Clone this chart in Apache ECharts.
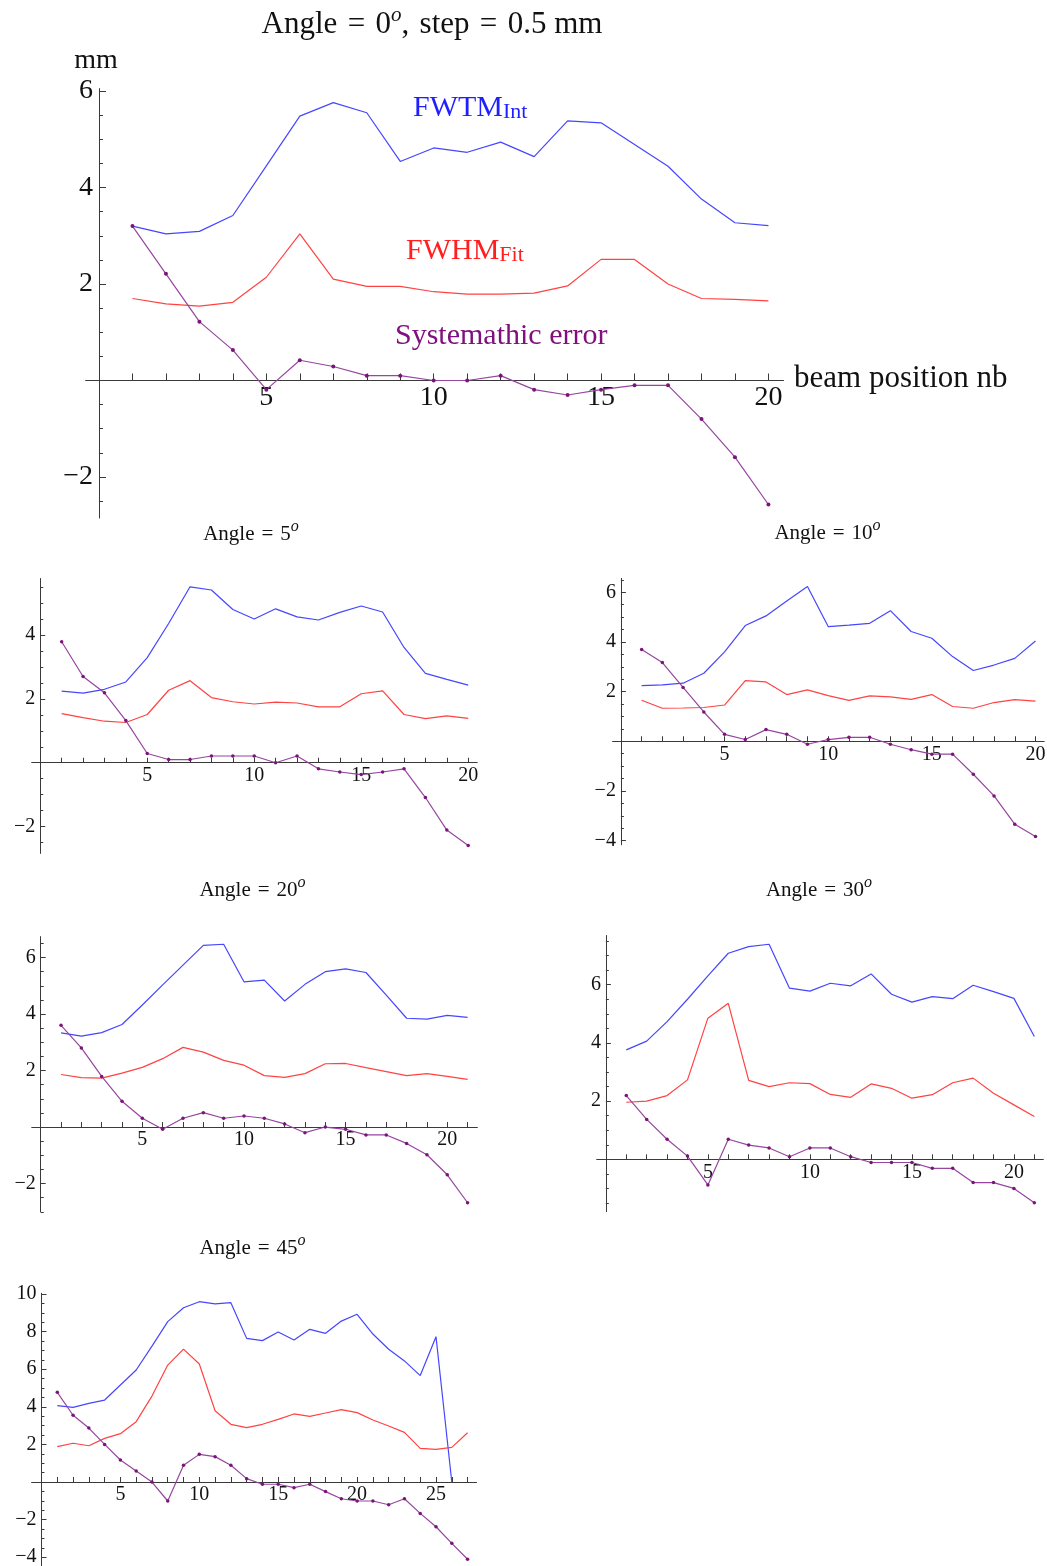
<!DOCTYPE html>
<html>
<head>
<meta charset="utf-8">
<script src="https://cdn.jsdelivr.net/npm/echarts@6/dist/echarts.min.js"></script>
<style>
  html, body { margin: 0; padding: 0; background: #ffffff; }
  #chart { width: 1047px; height: 1566px; }
</style>
</head>
<body>
<div id="chart"></div>
<script>
// Beam width (FWTM, FWHM) and systematic error, in mm, per beam position.

// Angle = 0°, step = 0.5 mm
const fwtm0 = [3.20, 3.04, 3.09, 3.42, 4.45, 5.48, 5.76, 5.55, 4.54, 4.82, 4.73, 4.94, 4.64, 5.38, 5.34, 4.89, 4.44, 3.76, 3.27, 3.21];
const fwhm0 = [1.70, 1.59, 1.54, 1.62, 2.14, 3.04, 2.10, 1.95, 1.95, 1.84, 1.79, 1.79, 1.81, 1.96, 2.51, 2.51, 2.00, 1.70, 1.68, 1.65];
const sys0  = [3.20, 2.21, 1.22, 0.63, -0.19, 0.42, 0.29, 0.10, 0.10, 0.00, 0.00, 0.10, -0.19, -0.30, -0.19, -0.10, -0.10, -0.80, -1.59, -2.57];

// Angle = 5°
const fwtm5 = [2.24, 2.18, 2.30, 2.53, 3.29, 4.36, 5.51, 5.41, 4.80, 4.50, 4.82, 4.57, 4.47, 4.71, 4.91, 4.72, 3.61, 2.80, 2.61, 2.43];
const fwhm5 = [1.54, 1.41, 1.30, 1.26, 1.51, 2.27, 2.57, 2.04, 1.91, 1.84, 1.90, 1.87, 1.75, 1.75, 2.16, 2.25, 1.51, 1.38, 1.47, 1.39];
const sys5  = [3.79, 2.70, 2.19, 1.32, 0.29, 0.10, 0.10, 0.21, 0.21, 0.21, 0.00, 0.21, -0.19, -0.29, -0.37, -0.29, -0.19, -1.09, -2.11, -2.59];

// Angle = 10°
const fwtm10 = [2.24, 2.27, 2.34, 2.74, 3.60, 4.66, 5.05, 5.65, 6.23, 4.62, 4.68, 4.75, 5.26, 4.42, 4.15, 3.41, 2.85, 3.07, 3.34, 4.04];
const fwhm10 = [1.65, 1.33, 1.34, 1.36, 1.46, 2.44, 2.39, 1.88, 2.07, 1.84, 1.65, 1.83, 1.79, 1.69, 1.88, 1.40, 1.33, 1.56, 1.68, 1.62];
const sys10  = [3.70, 3.17, 2.17, 1.18, 0.28, 0.07, 0.47, 0.28, -0.12, 0.07, 0.16, 0.16, -0.12, -0.34, -0.52, -0.52, -1.33, -2.20, -3.34, -3.84];

// Angle = 20°
const fwtm20 = [3.33, 3.22, 3.34, 3.63, 4.32, 5.03, 5.73, 6.43, 6.47, 5.14, 5.20, 4.46, 5.05, 5.50, 5.60, 5.47, 4.67, 3.85, 3.82, 3.95, 3.88];
const fwhm20 = [1.86, 1.75, 1.73, 1.91, 2.11, 2.42, 2.82, 2.65, 2.36, 2.19, 1.82, 1.76, 1.89, 2.24, 2.25, 2.10, 1.96, 1.82, 1.89, 1.79, 1.69];
const sys20  = [3.60, 2.80, 1.79, 0.91, 0.31, -0.08, 0.31, 0.51, 0.31, 0.39, 0.31, 0.11, -0.20, 0.00, -0.08, -0.28, -0.28, -0.58, -0.98, -1.69, -2.68];

// Angle = 30°
const fwtm30 = [3.76, 4.06, 4.73, 5.50, 6.30, 7.08, 7.31, 7.39, 5.88, 5.78, 6.05, 5.96, 6.37, 5.67, 5.40, 5.59, 5.52, 5.98, 5.76, 5.53, 4.22];
const fwhm30 = [1.96, 2.00, 2.19, 2.73, 4.85, 5.36, 2.71, 2.50, 2.63, 2.60, 2.23, 2.13, 2.59, 2.44, 2.10, 2.22, 2.63, 2.79, 2.27, 1.87, 1.47];
const sys30  = [2.19, 1.37, 0.69, 0.11, -0.88, 0.69, 0.49, 0.39, 0.09, 0.39, 0.39, 0.09, -0.11, -0.11, -0.11, -0.31, -0.31, -0.80, -0.80, -1.00, -1.49];

// Angle = 45°
const fwtm45 = [4.06, 3.97, 4.18, 4.36, 5.16, 5.96, 7.23, 8.53, 9.27, 9.59, 9.47, 9.54, 7.64, 7.52, 7.98, 7.55, 8.12, 7.91, 8.56, 8.92, 7.87, 7.06, 6.44, 5.66, 7.73, 0.00];
const fwhm45 = [1.88, 2.06, 1.93, 2.32, 2.57, 3.21, 4.57, 6.22, 7.07, 6.28, 3.79, 3.07, 2.89, 3.07, 3.33, 3.62, 3.49, 3.67, 3.85, 3.69, 3.30, 2.98, 2.64, 1.79, 1.74, 1.84, 2.62];
const sys45  = [4.77, 3.55, 2.87, 2.00, 1.17, 0.59, 0.00, -1.01, 0.89, 1.47, 1.35, 0.89, 0.18, -0.12, -0.12, -0.30, -0.12, -0.51, -0.89, -1.01, -1.01, -1.21, -0.89, -1.67, -2.38, -3.26, -4.11];

// Tick labels
const xLabels20 = [5, 10, 15, 20];
const xLabels25 = [5, 10, 15, 20, 25];
const yLabels0  = [-2, 2, 4, 6];
const yLabels5  = [-2, 2, 4];
const yLabels10 = [-4, -2, 2, 4, 6];
const yLabels20 = [-2, 2, 4, 6];
const yLabels30 = [2, 4, 6];
const yLabels45 = [-4, -2, 2, 4, 6, 8, 10];

const FONT = '"Liberation Serif", "Times New Roman", serif';
const BLUE = '#4646ff';
const RED = '#ff4343';
const PURPLE_LINE = '#9646a0';
const PURPLE_DOT = '#7a1478';
const AXIS = '#3a3a3a';

// Panel layout: axis ranges and plot boxes [left, top, width, height]
const panels = [
  { angle: '0', fwtm: fwtm0, fwhm: fwhm0, sys: sys0, nb: 20, xLab: xLabels20, yLab: yLabels0,
    xr: [-0.4, 20.45], yr: [-2.85, 6.05], box: [85.6, 88.6, 697.9, 429.4], big: true },
  { angle: '5', fwtm: fwtm5, fwhm: fwhm5, sys: sys5, nb: 20, xLab: xLabels20, yLab: yLabels5,
    xr: [-0.4, 20.42], yr: [-2.84, 5.77], box: [31.7, 578.5, 445.5, 274.9] },
  { angle: '10', fwtm: fwtm10, fwhm: fwhm10, sys: sys10, nb: 20, xLab: xLabels20, yLab: yLabels10,
    xr: [-0.4, 20.42], yr: [-4.17, 6.56], box: [612.6, 578.4, 431.6, 266.4] },
  { angle: '20', fwtm: fwtm20, fwhm: fwhm20, sys: sys20, nb: 21, xLab: xLabels20, yLab: yLabels20,
    xr: [-0.44, 21.48], yr: [-3.0, 6.74], box: [31.75, 936.6, 445.6, 275.2] },
  { angle: '30', fwtm: fwtm30, fwhm: fwhm30, sys: sys30, nb: 21, xLab: xLabels20, yLab: yLabels30,
    xr: [-0.45, 21.44], yr: [-1.8, 7.69], box: [596.7, 935.5, 446.6, 276.2] },
  { angle: '45', fwtm: fwtm45, fwhm: fwhm45, sys: sys45, nb: 27, xLab: xLabels25, yLab: yLabels45,
    xr: [-0.63, 27.57], yr: [-4.47, 10.04], box: [31.56, 1293.25, 445.0, 272.8] }
];

function intTicks(n) {
  const out = [];
  for (let i = 1; i <= n; i++) out.push(i);
  return out;
}
function halfTicks(lo, hi) {
  const out = [];
  for (let v = Math.ceil(lo * 2) / 2; v <= hi + 1e-9; v += 0.5) {
    if (Math.abs(v) > 1e-9 && Math.abs(v % 2) > 1e-9) out.push(v);
  }
  return out;
}
const fmtNum = v => (v < 0 ? '\u2212' + Math.abs(v) : String(v));
const pts = arr => arr.map((v, i) => [i + 1, v]);

const grids = [], xAxes = [], yAxes = [], series = [];

panels.forEach((p, k) => {
  const tickFont = p.big ? 28 : 20;
  // labels are laid out from the grid edge: shift them back onto the zero lines
  const zeroFromBottom = (0 - p.yr[0]) / (p.yr[1] - p.yr[0]) * p.box[3];
  const zeroFromLeft = (0 - p.xr[0]) / (p.xr[1] - p.xr[0]) * p.box[2];
  grids.push({ left: p.box[0], top: p.box[1], width: p.box[2], height: p.box[3],
               containLabel: false, outerBoundsMode: 'none' });
  xAxes.push({
    gridIndex: k, type: 'value', min: p.xr[0], max: p.xr[1],
    axisLine: { onZero: true, onZeroAxisIndex: 2 * k, lineStyle: { color: AXIS, width: 1 } },
    axisTick: { show: true, inside: true, length: p.big ? 7 : 5, customValues: intTicks(p.nb),
                lineStyle: { color: AXIS, width: 1 } },
    axisLabel: { customValues: p.xLab, color: '#111', fontFamily: FONT, fontSize: tickFont,
                 margin: 3 - zeroFromBottom, hideOverlap: false },
    splitLine: { show: false }
  });
  // major ticks with labels
  yAxes.push({
    gridIndex: k, type: 'value', min: p.yr[0], max: p.yr[1],
    axisLine: { onZero: true, onZeroAxisIndex: k, lineStyle: { color: AXIS, width: 1 } },
    axisTick: { show: true, inside: true, length: p.big ? 7 : 5, customValues: p.yLab,
                lineStyle: { color: AXIS, width: 1 } },
    axisLabel: { customValues: p.yLab, formatter: fmtNum, color: '#111', fontFamily: FONT,
                 fontSize: tickFont, margin: (p.big ? 6 : 5) - zeroFromLeft, hideOverlap: false },
    splitLine: { show: false }
  });
  // half-unit minor ticks
  yAxes.push({
    gridIndex: k, type: 'value', min: p.yr[0], max: p.yr[1], position: 'left',
    axisLine: { show: false, onZero: true, onZeroAxisIndex: k },
    axisTick: { show: true, inside: true, length: p.big ? 4 : 3, customValues: halfTicks(p.yr[0], p.yr[1]),
                lineStyle: { color: AXIS, width: 1 } },
    axisLabel: { show: false },
    splitLine: { show: false }
  });
  const common = { type: 'line', xAxisIndex: k, yAxisIndex: 2 * k, silent: true, animation: false };
  series.push(Object.assign({}, common, {
    name: 'FWTM ' + p.angle, data: pts(p.fwtm), symbol: 'none',
    lineStyle: { color: BLUE, width: 1.2 }, z: 3
  }));
  series.push(Object.assign({}, common, {
    name: 'FWHM ' + p.angle, data: pts(p.fwhm), symbol: 'none',
    lineStyle: { color: RED, width: 1.2 }, z: 3
  }));
  series.push(Object.assign({}, common, {
    name: 'Systematic ' + p.angle, data: pts(p.sys), symbol: 'circle', symbolSize: p.big ? 4 : 3.5,
    showSymbol: true, itemStyle: { color: PURPLE_DOT, borderWidth: 0 },
    lineStyle: { color: PURPLE_LINE, width: 1.2 }, z: 4
  }));
});

// Titles and labels; the degree "o" is raised by bottom padding on its token
function titleText(x, y, angle, tail, size, supSize, supRaise) {
  return {
    type: 'text', x: x, y: y, z: 10, silent: true,
    style: {
      text: '{n|Angle\u2004=\u2004' + angle + '}{s|o}' + (tail ? '{n|' + tail + '}' : ''),
      textAlign: 'center', textVerticalAlign: 'middle',
      rich: {
        n: { fontFamily: FONT, fontSize: size, lineHeight: size, fill: '#111' },
        s: { fontFamily: FONT, fontSize: supSize, fontStyle: 'italic', lineHeight: supSize,
             verticalAlign: 'bottom', padding: [0, 0, supRaise, 0], fill: '#111' }
      }
    }
  };
}
function subLabel(x, y, main, sub, color) {
  return {
    type: 'text', x: x, y: y, z: 10, silent: true,
    style: {
      text: '{n|' + main + '}{b|' + sub + '}',
      textAlign: 'left', textVerticalAlign: 'middle',
      rich: {
        n: { fontFamily: FONT, fontSize: 30, lineHeight: 30, fill: color },
        b: { fontFamily: FONT, fontSize: 22, lineHeight: 14.6, verticalAlign: 'bottom', fill: color }
      }
    }
  };
}
function plainText(x, y, txt, size, color, align) {
  return {
    type: 'text', x: x, y: y, z: 10, silent: true,
    style: { text: txt, fontFamily: FONT, fontSize: size, fill: color,
             textAlign: align || 'left', textVerticalAlign: 'middle' }
  };
}

const graphics = [
  titleText(432, 24.9, '0', ',\u2004step\u2004=\u20040.5 mm', 31, 21, 14),
  plainText(96, 60.5, 'mm', 28, '#111', 'center'),
  subLabel(413, 108.2, 'FWTM', 'Int', '#1f1fff'),
  subLabel(406, 251.6, 'FWHM', 'Fit', '#ff1f1f'),
  plainText(395, 336.6, 'Systemathic error', 30, '#80107e'),
  plainText(794, 379.2, 'beam position nb', 31, '#111'),
  titleText(251, 534, '5', '', 21, 16, 10),
  titleText(827.5, 533, '10', '', 21, 16, 10),
  titleText(252.5, 890, '20', '', 21, 16, 10),
  titleText(819, 890, '30', '', 21, 16, 10),
  titleText(252.5, 1248, '45', '', 21, 16, 10)
];

const chart = echarts.init(document.getElementById('chart'), null, { renderer: 'canvas' });
chart.setOption({
  backgroundColor: '#ffffff',
  animation: false,
  grid: grids,
  xAxis: xAxes,
  yAxis: yAxes,
  series: series,
  graphic: graphics
});
</script>
</body>
</html>
